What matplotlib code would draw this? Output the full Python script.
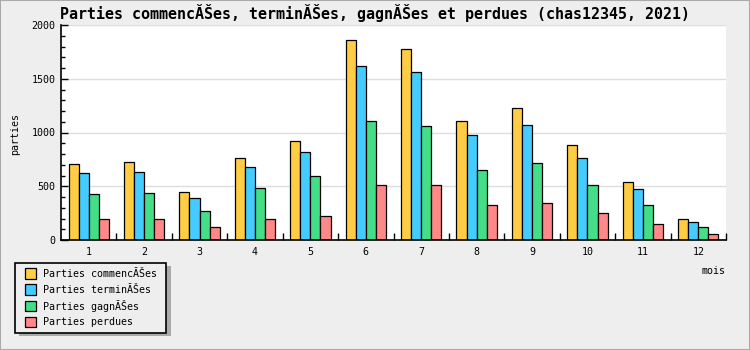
import matplotlib.pyplot as plt
from matplotlib.patches import Rectangle

months = ['1', '2', '3', '4', '5', '6', '7', '8', '9', '10', '11', '12']
commencees = [705, 723, 444, 761, 919, 1860, 1776, 1105, 1226, 882, 537, 193]
terminees = [621, 630, 388, 677, 817, 1618, 1562, 975, 1068, 761, 472, 165]
gagnees = [428, 435, 267, 481, 593, 1105, 1059, 649, 714, 509, 323, 118]
perdues = [193, 193, 118, 193, 220, 509, 509, 323, 342, 248, 146, 53]

labels = ['Parties commencĂŠes', 'Parties terminĂŠes', 'Parties gagnĂŠes', 'Parties perdues']
colors = ['#ffcc44', '#44ccff', '#44dd88', '#ff8888']
title = 'Parties commencĂŠes, terminĂŠes, gagnĂŠes et perdues (chas12345, 2021)'

plt.rcParams['font.family'] = 'DejaVu Sans Mono'

W, H = 750, 350

def fx(px):
    return px / W

def fy(py):
    return 1 - py / H

fig = plt.figure(figsize=(7.5, 3.5), dpi=100, facecolor='#eeeeee')
ax = fig.add_axes([fx(61), fy(240), 665 / W, 215 / H])
ax.set_facecolor('white')

x = range(len(months))
width = 0.182
series = [commencees, terminees, gagnees, perdues]
for i, values in enumerate(series):
    offset = (i - 1.5) * width
    ax.bar([j + offset for j in x], values, width=width, color=colors[i],
           edgecolor='black', linewidth=0.9, label=labels[i], zorder=3)

ax.set_xlim(-0.5, len(months) - 0.5)
ax.set_ylim(0, 2000)

# labels at group centers, tick marks at group boundaries
ax.set_xticks(list(x))
ax.set_xticklabels(months, fontsize=7.2)
ax.tick_params(axis='x', which='major', length=0, pad=5)
ax.set_xticks([j + 0.5 for j in range(len(months))], minor=True)
ax.tick_params(axis='x', which='minor', direction='in', length=5, width=1)

ax.set_yticks([0, 500, 1000, 1500, 2000])
ax.set_yticks(range(0, 2001, 100), minor=True)
ax.tick_params(axis='y', which='major', direction='in', length=5, width=1, labelsize=7.2, pad=4)
ax.tick_params(axis='y', which='minor', direction='in', length=3, width=1)

ax.yaxis.grid(True, color='#dddddd', linewidth=1, zorder=0)
ax.set_axisbelow(True)
for s in ['top', 'right']:
    ax.spines[s].set_visible(False)
for s in ['left', 'bottom']:
    ax.spines[s].set_linewidth(1.2)
    ax.spines[s].set_zorder(4)

fig.text(fx(375), fy(13), title, ha='center', va='center', fontsize=10.8, fontweight='bold')
fig.text(fx(15), fy(134), 'parties', rotation=90, ha='center', va='center', fontsize=7.2)
fig.text(fx(725), fy(271), 'mois', ha='right', va='center', fontsize=7.2)

# legend box with drop shadow, drawn by hand
fig.patches.append(Rectangle((fx(19), fy(336)), 152 / W, 70 / H, transform=fig.transFigure,
                             facecolor='#aaaaaa', edgecolor='none', zorder=1))
fig.patches.append(Rectangle((fx(15), fy(332.5)), 151 / W, 69.5 / H, transform=fig.transFigure,
                             facecolor='#eeeeee', edgecolor='black', linewidth=1.2, zorder=2))
for i, lab in enumerate(labels):
    cy = 273.7 + i * 16.05
    fig.patches.append(Rectangle((fx(25), fy(cy + 5.3)), 10.5 / W, 10.6 / H,
                                 transform=fig.transFigure, facecolor=colors[i],
                                 edgecolor='black', linewidth=0.9, zorder=3))
    fig.text(fx(43), fy(cy), lab, ha='left', va='center', fontsize=7.2, zorder=3)

# outer border
fig.patches.append(Rectangle((0, 0), 1, 1, transform=fig.transFigure, fill=False,
                             edgecolor='#aaaaaa', linewidth=1.5, zorder=5))

fig.savefig('out.png', dpi=100, facecolor=fig.get_facecolor())
